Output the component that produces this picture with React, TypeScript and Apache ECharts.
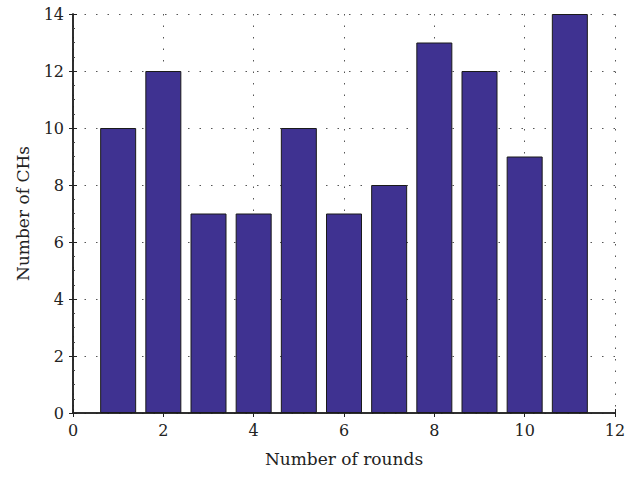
import React, { useEffect, useRef } from "react";
import * as echarts from "echarts";

const rounds = [1, 2, 3, 4, 5, 6, 7, 8, 9, 10, 11];
const chCounts = [10, 12, 7, 7, 10, 7, 8, 13, 12, 9, 14];
const xTitle = "Number of rounds";
const yTitle = "Number of CHs";

export default function App() {
  const ref = useRef<HTMLDivElement>(null);
  useEffect(() => {
    if (!ref.current) return;
    const chart = echarts.init(ref.current, null, { renderer: "svg" });
    const font = "'DejaVu Serif', 'Liberation Serif', serif";
    const txt = { fontFamily: font, fontSize: 17, color: "#222" };
    const lbl = { fontFamily: font, fontSize: 16, color: "#222" };
    const axisLine = { show: true, lineStyle: { color: "#222", width: 1.5 } };
    const grid = { show: true, lineStyle: { color: "#555", type: [1.5, 10] as any, width: 1 } };
    chart.setOption({
      animation: false,
      backgroundColor: "#fff",
      grid: { left: 73, right: 21, top: 14, bottom: 66 },
      xAxis: [
        {
          type: "value",
          min: 0,
          max: 12,
          interval: 2,
          name: xTitle,
          nameLocation: "middle",
          nameGap: 37,
          nameTextStyle: txt,
          axisLine,
          axisTick: { show: true, inside: true, length: 4, lineStyle: { color: "#222" } },
          axisLabel: { ...lbl, margin: 9 },
          splitLine: grid,
        },
        {
          type: "value",
          position: "top",
          min: 0,
          max: 12,
          interval: 2,
          axisLine,
          axisTick: { show: true, inside: true, length: 4, lineStyle: { color: "#222" } },
          axisLabel: { show: false },
          splitLine: { show: false },
        },
      ],
      yAxis: [
        {
          type: "value",
          min: 0,
          max: 14,
          interval: 2,
          name: yTitle,
          nameLocation: "middle",
          nameGap: 42,
          nameTextStyle: txt,
          axisLine,
          axisTick: { show: true, inside: true, length: 4, lineStyle: { color: "#222" } },
          minorTick: { show: true, splitNumber: 4, length: 2, lineStyle: { color: "#444" } },
          axisLabel: { ...lbl, margin: 9 },
          splitLine: grid,
        },
        {
          type: "value",
          position: "right",
          min: 0,
          max: 14,
          interval: 2,
          axisLine,
          axisTick: { show: true, inside: true, length: 4, lineStyle: { color: "#222" } },
          axisLabel: { show: false },
          splitLine: { show: false },
        },
      ],
      series: [
        {
          type: "bar",
          xAxisIndex: 0,
          yAxisIndex: 0,
          barWidth: 36,
          data: rounds.map((r, i) => [r, chCounts[i]]),
          itemStyle: { color: "#3f3291", borderColor: "#1a1a1a", borderWidth: 1 },
        },
      ],
    });
    return () => chart.dispose();
  }, []);
  return <div ref={ref} style={{ width: 636, height: 479, position: "absolute", left: 0, top: 0 }} />;
}
